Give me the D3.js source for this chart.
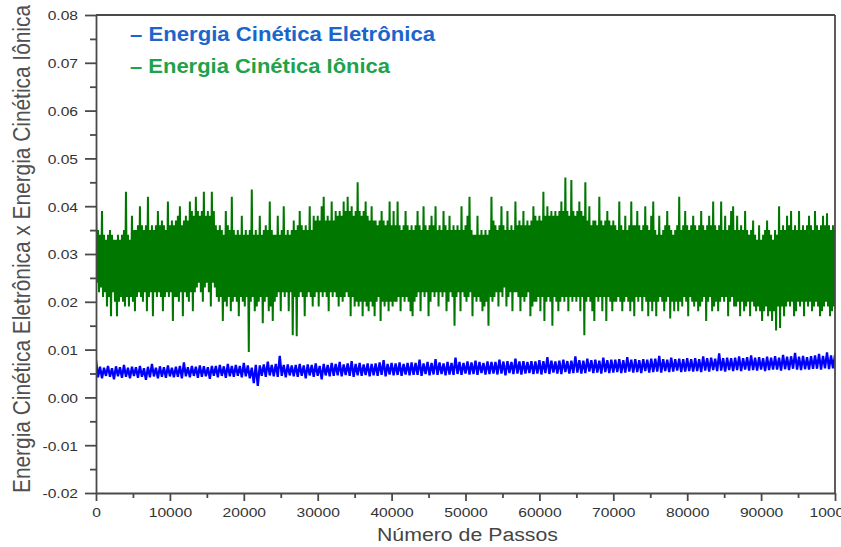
<!DOCTYPE html>
<html><head><meta charset="utf-8">
<script src="https://cdn.jsdelivr.net/npm/d3@7"></script>
<style>body{margin:0;background:#fff}svg{display:block}</style>
</head><body>
<svg id="chart" width="841" height="547"></svg>
<script>
// ---------- data ----------
const seriesNames = ["Energia Cinética Eletrônica", "Energia Cinética Iônica"];
const xTicks = [0,10000,20000,30000,40000,50000,60000,70000,80000,90000,100000];
const xTickLabels = ["0","10000","20000","30000","40000","50000","60000","70000","80000","90000","100000"];
const yTicks = [-0.02,-0.01,0.00,0.01,0.02,0.03,0.04,0.05,0.06,0.07,0.08];
const yTickLabels = ["-0.02","-0.01","0.00","0.01","0.02","0.03","0.04","0.05","0.06","0.07","0.08"];
const xMinorTicks = [5000,15000,25000,35000,45000,55000,65000,75000,85000,95000];
const yMinorTicks = [-0.015,-0.005,0.005,0.015,0.025,0.035,0.045,0.055,0.065,0.075];
const totalSteps = 100000;

const ionicValues = [
.041,.024,.035,.022,.034,.023,.039,.021,.034,.022,.033,.019,.034,.021,.035,.017,.034,.022,.033,.020,
.033,.017,.034,.020,.033,.021,.034,.020,.035,.019,.043,.021,.034,.019,.033,.021,.038,.020,.035,.018,
.035,.021,.036,.022,.040,.021,.036,.020,.035,.022,.036,.018,.042,.021,.035,.022,.036,.017,.035,.022,
.036,.021,.039,.022,.036,.021,.037,.018,.036,.021,.035,.022,.041,.021,.036,.022,.037,.016,.036,.021,
.037,.021,.038,.020,.040,.022,.036,.017,.037,.022,.038,.021,.037,.020,.041,.022,.039,.018,.038,.022,
.042,.023,.039,.024,.038,.022,.039,.020,.043,.023,.038,.024,.039,.022,.038,.019,.043,.024,.039,.023,
.036,.021,.035,.020,.036,.021,.035,.016,.034,.020,.039,.019,.036,.021,.035,.018,.042,.020,.035,.021,
.034,.020,.035,.017,.034,.021,.038,.020,.034,.019,.035,.021,.034,.0095,.035,.020,.0435,.021,.034,.018,
.035,.019,.034,.020,.038,.021,.034,.0155,.035,.020,.036,.021,.035,.018,.041,.019,.035,.016,.034,.020,
.034,.021,.038,.022,.034,.018,.035,.022,.040,.021,.034,.022,.035,.018,.034,.022,.035,.013,.037,.021,
.035,.0128,.036,.021,.039,.022,.036,.021,.035,.017,.036,.021,.035,.022,.040,.021,.035,.019,.038,.021,
.037,.022,.038,.019,.037,.022,.040,.021,.042,.022,.037,.021,.038,.018,.037,.022,.041,.021,.037,.022,
.039,.021,.038,.019,.039,.021,.038,.020,.041,.021,.039,.022,.042,.021,.039,.017,.040,.021,.038,.019,
.039,.020,.045,.019,.039,.020,.038,.017,.039,.020,.041,.019,.038,.018,.037,.020,.040,.019,.037,.017,
.037,.020,.036,.021,.037,.016,.039,.020,.037,.019,.036,.020,.037,.018,.041,.020,.036,.019,.039,.020,
.036,.020,.041,.021,.036,.018,.035,.021,.036,.020,.039,.021,.036,.020,.035,.018,.036,.017,.035,.020,
.036,.021,.039,.022,.036,.018,.035,.022,.040,.021,.036,.022,.035,.017,.036,.020,.038,.022,.036,.021,
.040,.022,.035,.019,.036,.022,.035,.021,.039,.022,.036,.018,.035,.020,.038,.022,.035,.021,.036,.015,
.035,.021,.036,.022,.035,.018,.040,.022,.035,.021,.036,.020,.038,.021,.042,.022,.035,.017,.034,.021,
.034,.020,.038,.021,.034,.020,.035,.018,.034,.019,.035,.020,.034,.015,.035,.021,.042,.020,.037,.021,
.036,.022,.035,.019,.036,.022,.040,.021,.036,.023,.035,.019,.039,.021,.035,.022,.036,.018,.035,.022,
.041,.022,.036,.021,.037,.018,.036,.021,.039,.020,.036,.021,.037,.022,.036,.017,.037,.019,.040,.020,
.038,.020,.037,.021,.038,.018,.037,.021,.043,.016,.038,.020,.040,.021,.038,.020,.039,.015,.038,.021,
.039,.020,.038,.018,.039,.020,.041,.021,.039,.020,.046,.021,.039,.018,.038,.021,.0455,.020,.039,.021,
.038,.020,.039,.021,.041,.018,.039,.021,.038,.013,.045,.020,.037,.021,.040,.020,.036,.018,.037,.016,
.037,.021,.036,.020,.042,.021,.037,.018,.036,.021,.037,.016,.039,.021,.037,.020,.036,.018,.037,.020,
.036,.020,.035,.021,.041,.020,.036,.018,.035,.020,.038,.021,.035,.020,.036,.018,.041,.020,.036,.017,
.036,.021,.039,.020,.036,.021,.035,.018,.036,.021,.040,.020,.036,.017,.035,.020,.038,.018,.041,.020,
.035,.017,.034,.020,.038,.021,.034,.020,.035,.018,.036,.020,.039,.021,.036,.0165,.035,.020,.034,.018,
.035,.020,.036,.018,.042,.020,.035,.019,.036,.021,.039,.020,.036,.017,.035,.021,.036,.020,.038,.019,
.036,.020,.035,.018,.036,.019,.039,.020,.036,.021,.035,.016,.036,.020,.038,.021,.036,.018,.041,.019,
.036,.020,.035,.018,.036,.020,.041,.021,.035,.020,.038,.021,.035,.017,.036,.020,.039,.021,.040,.019,
.035,.019,.038,.020,.035,.017,.036,.020,.035,.018,.039,.019,.035,.020,.034,.017,.035,.020,.037,.019,
.034,.018,.033,.019,.036,.018,.033,.016,.034,.018,.035,.019,.037,.017,.035,.018,.034,.016,.033,.018,
.035,.014,.034,.019,.040,.0145,.035,.019,.036,.017,.035,.019,.038,.020,.036,.019,.039,.020,.035,.017,
.036,.018,.035,.020,.039,.019,.035,.020,.036,.017,.035,.020,.036,.019,.038,.020,.036,.018,.035,.019,
.039,.020,.036,.019,.035,.017,.036,.018,.038,.019,.036,.020,.0385,.019,.036,.017,.035,.018,.036,.019,
.035
];

const electronicValues = [
.0078,.0042,.0064,.0040,.0062,.0045,.0066,.0043,.0061,.0038,.0065,.0044,.0063,.0041,.0068,.0043,.0062,.0040,.0064,.0045,
.0063,.0041,.0066,.0043,.0061,.0037,.0064,.0042,.0070,.0044,.0062,.0040,.0065,.0043,.0063,.0041,.0067,.0044,.0062,.0042,
.0064,.0043,.0066,.0040,.0073,.0044,.0063,.0042,.0066,.0045,.0064,.0041,.0067,.0043,.0065,.0044,.0063,.0039,.0066,.0045,
.0066,.0042,.0068,.0045,.0065,.0041,.0070,.0044,.0066,.0043,.0068,.0045,.0066,.0042,.0072,.0044,.0067,.0040,.0062,.0030,
.0068,.0024,.0067,.0045,.0069,.0043,.0075,.0046,.0068,.0044,.0070,.0043,.0087,.0045,.0068,.0042,.0069,.0046,.0067,.0044,
.0068,.0043,.0070,.0045,.0067,.0040,.0069,.0046,.0068,.0043,.0071,.0045,.0066,.0038,.0070,.0046,.0068,.0044,.0072,.0045,
.0070,.0046,.0074,.0044,.0069,.0047,.0071,.0045,.0076,.0043,.0070,.0046,.0072,.0045,.0069,.0047,.0071,.0044,.0070,.0046,
.0071,.0045,.0073,.0047,.0078,.0044,.0070,.0048,.0072,.0046,.0071,.0047,.0073,.0045,.0070,.0048,.0072,.0046,.0073,.0047,
.0072,.0047,.0079,.0045,.0071,.0049,.0074,.0046,.0072,.0048,.0080,.0047,.0073,.0049,.0071,.0046,.0074,.0048,.0072,.0047,
.0083,.0049,.0074,.0047,.0072,.0050,.0075,.0048,.0073,.0049,.0077,.0047,.0074,.0051,.0072,.0048,.0075,.0049,.0074,.0050,
.0074,.0048,.0079,.0050,.0075,.0046,.0076,.0051,.0074,.0049,.0081,.0050,.0075,.0048,.0076,.0050,.0074,.0051,.0076,.0049,
.0075,.0050,.0078,.0048,.0076,.0051,.0084,.0049,.0077,.0052,.0075,.0050,.0077,.0049,.0079,.0053,.0076,.0050,.0077,.0051,
.0086,.0052,.0078,.0050,.0077,.0051,.0081,.0054,.0078,.0051,.0079,.0052,.0077,.0050,.0083,.0053,.0078,.0051,.0079,.0052,
.0079,.0053,.0080,.0051,.0078,.0052,.0084,.0054,.0079,.0052,.0080,.0053,.0078,.0051,.0080,.0055,.0079,.0052,.0081,.0053,
.0081,.0054,.0087,.0052,.0080,.0055,.0079,.0053,.0083,.0054,.0080,.0056,.0081,.0053,.0080,.0054,.0082,.0055,.0080,.0054,
.0082,.0055,.0080,.0053,.0086,.0056,.0082,.0054,.0083,.0057,.0081,.0055,.0092,.0056,.0082,.0054,.0083,.0057,.0082,.0055,
.0083,.0057,.0086,.0055,.0082,.0058,.0084,.0056,.0088,.0057,.0083,.0056,.0084,.0058,.0082,.0055,.0085,.0057,.0083,.0058,
.0086,.0058,.0083,.0056,.0089,.0059,.0085,.0057,.0086,.0060,.0093,.0058,.0085,.0057,.0087,.0059,.0084,.0058,.0086,.0060,
.0088,.0060,.0091,.0058,.0087,.0061,.0094,.0059,.0088,.0061,.0089
];

// ---------- chart ----------
const W = 841, H = 547;
const svg = d3.select("#chart");
svg.append("rect").attr("width", W).attr("height", H).attr("fill", "#fff");

const x = d3.scaleLinear().domain([0, totalSteps]).range([96, 835]);
const y = d3.scaleLinear().domain([-0.02, 0.08]).range([493, 15]);

svg.append("clipPath").attr("id", "plotclip")
  .append("rect").attr("x", 96).attr("y", 15).attr("width", 739).attr("height", 478);

const plot = svg.append("g").attr("clip-path", "url(#plotclip)");

function lineFor(values) {
  const n = values.length;
  return d3.line()
    .x((d, i) => x(i * totalSteps / (n - 1)))
    .y(d => y(d))(values);
}

plot.append("path")
  .attr("d", lineFor(ionicValues))
  .attr("fill", "none")
  .attr("stroke", "#007800")
  .attr("stroke-width", 2.0)
  .attr("stroke-linejoin", "bevel");

plot.append("path")
  .attr("d", lineFor(electronicValues))
  .attr("fill", "none")
  .attr("stroke", "#0000ff")
  .attr("stroke-width", 2.3)
  .attr("stroke-linejoin", "bevel");

const axisColor = "#4a4a4a";
const tickFont = "'Liberation Sans', Arial, sans-serif";

// frame: top and right
svg.append("line").attr("x1", 96).attr("x2", 835).attr("y1", y(0.08)).attr("y2", y(0.08))
  .attr("stroke", axisColor).attr("stroke-width", 1.8);
svg.append("line").attr("x1", 835).attr("x2", 835).attr("y1", 15).attr("y2", 493)
  .attr("stroke", axisColor).attr("stroke-width", 1.8);

// left axis major
const gy = svg.append("g").attr("transform", "translate(96,0)")
  .call(d3.axisLeft(y).tickValues(yTicks).tickSize(11).tickSizeOuter(0)
    .tickFormat((d, i) => yTickLabels[i]));
// left axis minor
svg.append("g").attr("transform", "translate(96,0)")
  .call(d3.axisLeft(y).tickValues(yMinorTicks).tickSize(6).tickFormat(""))
  .call(g => g.select(".domain").remove());

// bottom axis major
const gx = svg.append("g").attr("transform", "translate(0,493)")
  .call(d3.axisBottom(x).tickValues(xTicks).tickSize(8).tickSizeOuter(0)
    .tickFormat((d, i) => xTickLabels[i]));
svg.append("g").attr("transform", "translate(0,493)")
  .call(d3.axisBottom(x).tickValues(xMinorTicks).tickSize(5).tickFormat(""))
  .call(g => g.select(".domain").remove());

svg.selectAll(".domain, .tick line").attr("stroke", axisColor).attr("stroke-width", 1.8);

gy.selectAll(".tick text")
  .attr("x", -18 / 1.25).attr("dy", null).attr("y", 4.8)
  .attr("transform", "scale(1.25,1)")
  .attr("fill", "#333").style("font-family", tickFont).style("font-size", "12.5px");

gx.selectAll(".tick text")
  .attr("y", 23.7).attr("dy", null)
  .attr("transform", "scale(1.25,1)")
  .attr("fill", "#333").style("font-family", tickFont).style("font-size", "12.5px");

// axis titles
svg.append("text")
  .attr("transform", "translate(30,249) scale(1.13,1) rotate(-90)")
  .attr("text-anchor", "middle")
  .attr("textLength", 488).attr("lengthAdjust", "spacingAndGlyphs")
  .style("font-family", tickFont).style("font-size", "21px").attr("fill", "#505050")
  .text(seriesNames[0] + " x " + seriesNames[1]);

svg.append("text")
  .attr("x", 467.5).attr("y", 541)
  .attr("text-anchor", "middle")
  .attr("textLength", 181).attr("lengthAdjust", "spacingAndGlyphs")
  .style("font-family", tickFont).style("font-size", "18px").attr("fill", "#454545")
  .text("Número de Passos");

// legend
const legendColors = ["#1a66cc", "#1ea24a"];
const legendBaselines = [41.3, 73];
const legendWidths = [305, 260];
seriesNames.forEach((name, i) => {
  svg.append("text")
    .attr("x", 130).attr("y", legendBaselines[i])
    .attr("textLength", legendWidths[i]).attr("lengthAdjust", "spacingAndGlyphs")
    .style("font-family", tickFont).style("font-size", "21px").style("font-weight", "bold")
    .attr("fill", legendColors[i])
    .text("\u2013 " + name);
});
</script>
</body></html>
